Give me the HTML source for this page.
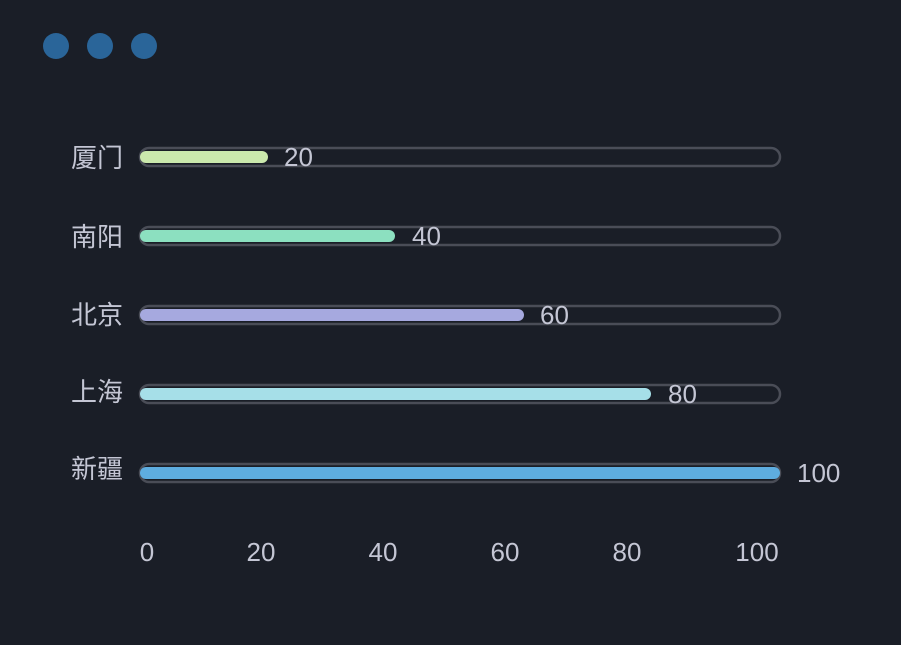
<!DOCTYPE html>
<html><head><meta charset="utf-8"><style>
html,body{margin:0;padding:0;background:#1a1e27;}
svg{display:block}
text{font-family:"Liberation Sans","Noto Sans CJK SC",sans-serif;fill:#c4c6d4;font-size:26px;}
</style></head><body>
<svg width="901" height="645" viewBox="0 0 901 645">
<rect width="901" height="645" fill="#1a1e27"/>
<circle cx="56" cy="46" r="13" fill="#2a6599"/>
<circle cx="100" cy="46" r="13" fill="#2a6599"/>
<circle cx="144" cy="46" r="13" fill="#2a6599"/>
<g fill="none" stroke="#4a4d57" stroke-width="2.5">
<rect x="140" y="148" width="640" height="18" rx="9"/>
<rect x="140" y="227" width="640" height="18" rx="9"/>
<rect x="140" y="306" width="640" height="18" rx="9"/>
<rect x="140" y="385" width="640" height="18" rx="9"/>
<rect x="140" y="464" width="640" height="18" rx="9"/>
</g>
<rect x="140" y="151" width="128" height="12" rx="6" fill="#cbe9ad"/>
<rect x="140" y="230" width="255" height="12" rx="6" fill="#8ce0c0"/>
<rect x="140" y="309" width="384" height="12" rx="6" fill="#a6a9df"/>
<rect x="140" y="388" width="511" height="12" rx="6" fill="#a6dfe8"/>
<rect x="140" y="467" width="640" height="12" rx="6" fill="#5eade0"/>
<g text-anchor="end">
<text x="123" y="167">厦门</text>
<text x="123" y="246">南阳</text>
<text x="123" y="324">北京</text>
<text x="123" y="401">上海</text>
<text x="123" y="478">新疆</text>
</g>
<text x="284" y="166">20</text>
<text x="412" y="245">40</text>
<text x="540" y="324">60</text>
<text x="668" y="403">80</text>
<text x="797" y="482">100</text>
<g text-anchor="middle">
<text x="147" y="561">0</text>
<text x="261" y="561">20</text>
<text x="383" y="561">40</text>
<text x="505" y="561">60</text>
<text x="627" y="561">80</text>
<text x="757" y="561">100</text>
</g>
</svg>
</body></html>
